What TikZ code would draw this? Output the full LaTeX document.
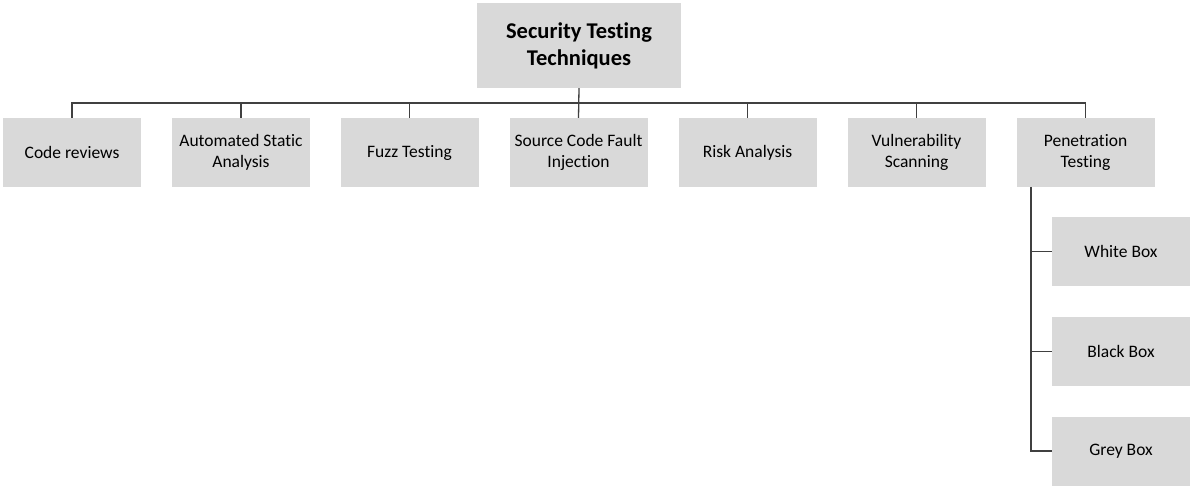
\documentclass[tikz,border=0pt]{standalone}
\usepackage{fontspec}
\setmainfont[RawFeature={-liga}]{Carlito}
\definecolor{boxgray}{HTML}{D9D9D9}
\definecolor{linegray}{HTML}{404040}
\tikzset{
  box/.style={fill=boxgray, minimum width=138pt, minimum height=69pt,
    inner sep=0pt, align=center, font=\fontsize{17.5}{21}\selectfont},
  rootbox/.style={box, minimum width=204pt, minimum height=85pt,
    font=\fontsize{22.5}{27}\selectfont\bfseries},
  link/.style={draw=linegray, line width=1.3pt}
}
\begin{document}
\begin{tikzpicture}[x=1pt,y=-1pt]
      \useasboundingbox (0,0) rectangle (1190,486);
      \node[rootbox] (root) at (579,45.5) {Security Testing\\Techniques};
      \draw
        (72,152.5) node[box] (code){Code reviews}
        (241,152.5) node[box] (static){Automated Static\\Analysis}
        (409.5,152.5) node[box] (fuzz){Fuzz Testing}
        (578.5,152.5) node[box] (fault){Source Code Fault\\Injection}
        (747.5,152.5) node[box] (risk){Risk Analysis}
        (916.5,152.5) node[box] (vuln){Vulnerability\\Scanning}
        (1085.5,152.5) node[box] (pen){Penetration\\Testing};
      \draw
        (1121,251.5) node[box] (white){White Box}
        (1121,351.5) node[box] (black){Black Box}
        (1121,451) node[box] (grey){Grey Box};
      \coordinate (bus) at (579,103);
      \coordinate (spine) at (1031,187);
      \begin{scope}[link]
        \draw (root.south) -- (fault.north);
        \draw (code.north) |- (bus) -| (pen.north);
        \draw (static.north) -- (static.north |- bus);
        \draw (fuzz.north) -- (fuzz.north |- bus);
        \draw (risk.north) -- (risk.north |- bus);
        \draw (vuln.north) -- (vuln.north |- bus);
        \draw (spine) |- (grey.west);
        \draw (spine |- white.west) -- (white.west);
        \draw (spine |- black.west) -- (black.west);
      \end{scope}
    \end{tikzpicture}
\end{document}
